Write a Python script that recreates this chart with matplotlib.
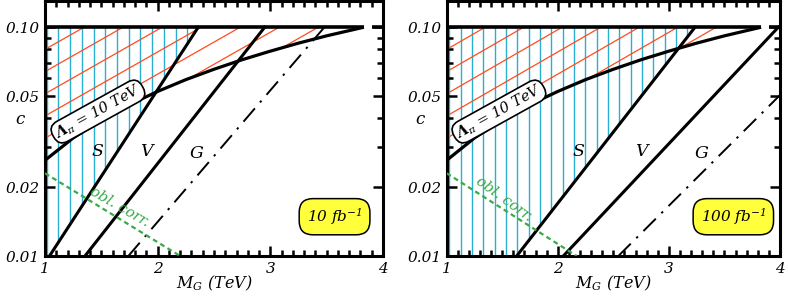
import numpy as np
import matplotlib
matplotlib.use("Agg")
import matplotlib.pyplot as plt
from matplotlib.ticker import FixedLocator, MultipleLocator, NullFormatter

plt.rcParams['mathtext.fontset'] = 'dejavuserif'
plt.rcParams['font.family'] = ['DejaVu Serif']
plt.rcParams['font.style'] = 'italic'

# ---------------- data ----------------
lumi_labels = ["10 fb$^{-1}$", "100 fb$^{-1}$"]

# Lambda_pi = 10 TeV curve (same in both panels)
M_lam = [1.0, 1.25, 1.5, 1.75, 2.0, 2.25, 2.5, 2.75, 3.0, 3.25, 3.5, 3.83]
c_lam = [0.0262, 0.0328, 0.0393, 0.0459, 0.0524, 0.0590, 0.0655, 0.0721,
         0.0786, 0.0852, 0.0917, 0.1]

# 10 fb^-1 panel
S10_M = [1.04, 2.36];  S10_c = [0.01, 0.10]
V10_M = [1.355, 2.95]; V10_c = [0.01, 0.10]
G10_M = [1.74, 3.48];  G10_c = [0.01, 0.10]
obl10_M = [1.0, 2.2];  obl10_c = [0.023, 0.01]

# 100 fb^-1 panel
S100_M = [1.63, 3.235]; S100_c = [0.01, 0.10]
V100_M = [2.05, 3.985]; V100_c = [0.01, 0.10]
G100_M = [2.545, 4.0];  G100_c = [0.01, 0.0505]
obl100_M = [1.0, 2.17]; obl100_c = [0.023, 0.01]

top_line_M = [[1.0, 3.83], [3.9, 4.0]]
c_top = 0.1

ytick_vals = [0.01, 0.02, 0.05, 0.10]
ytick_labels = ["0.01", "0.02", "0.05", "0.10"]
xtick_vals = [1, 2, 3, 4]
xtick_labels = ["1", "2", "3", "4"]

# ---------------- styling ----------------
W, H = 788, 297
fig = plt.figure(figsize=(W / 100, H / 100), dpi=100)
ax_boxes = [
    [45 / W, (H - 256) / H, 338 / W, 255 / H],
    [446.7 / W, (H - 256) / H, 333.3 / W, 255 / H],
]
CYAN = "#2aaed2"
RED = "#ff4b1f"
GREEN = "#3aaa48"
YELLOW = "#ffff3c"

cfg = [
    dict(S=(S10_M, S10_c), V=(V10_M, V10_c), G=(G10_M, G10_c), obl=(obl10_M, obl10_c),
         cyan_start=1.015, cyan_step=0.104,
         Spos=(1.467, 0.0286), Vpos=(1.90, 0.0286), Gpos=(2.345, 0.028),
         lampos=(1.47, 0.0428), oblpos=(1.66, 0.0163), oblrot=-30,
         lumipos=(3.57, 0.01485), ylab_x=-0.074),
    dict(S=(S100_M, S100_c), V=(V100_M, V100_c), G=(G100_M, G100_c), obl=(obl100_M, obl100_c),
         cyan_start=1.024, cyan_step=0.102,
         Spos=(2.185, 0.0286), Vpos=(2.755, 0.0286), Gpos=(3.295, 0.028),
         lampos=(1.47, 0.0428), oblpos=(1.52, 0.0178), oblrot=-36,
         lumipos=(3.58, 0.01485), ylab_x=-0.08),
]

tick_font = dict(family="DejaVu Serif", style="italic", size=11)

for i, (box, c) in enumerate(zip(ax_boxes, cfg)):
    ax = fig.add_axes(box)
    ax.set_yscale("log")
    ax.set_xlim(1, 4)
    ax.set_ylim(0.01, 0.1302)

    # --- cyan vertical hatching: region above the S line, below 0.1
    SM, Sc = c["S"]
    xs = np.arange(c["cyan_start"], 4.0, c["cyan_step"])
    for x in xs:
        lo = 10 ** np.interp(x, SM, np.log10(Sc))
        if lo < c_top - 1e-6:
            ax.plot([x, x], [max(lo, 0.01), c_top], color=CYAN, lw=1.0, zorder=1,
                    solid_capstyle="butt")

    # --- red diagonal hatching: region above Lambda curve, below 0.1
    poly = ax.fill_between(M_lam, c_lam, c_top, facecolor="none", edgecolor="none", lw=0)
    clip_path = poly.get_paths()[0]
    Mx = np.array([0.8, 4.2])
    for k in range(-40, 10):
        logc = -1.0 + k * 0.097 + 0.28 * (Mx - 1.0)
        ln, = ax.plot(Mx, 10 ** logc, color=RED, lw=0.9, zorder=2)
        ln.set_clip_path(clip_path, ax.transData)

    # --- main lines
    ax.plot(M_lam, c_lam, color="black", lw=2.3, zorder=4, solid_capstyle="butt")
    for key in ("S", "V"):
        mm, cc = c[key]
        ax.plot(mm, cc, color="black", lw=2.2, zorder=4)
    mm, cc = c["G"]
    ax.plot(mm, cc, color="black", lw=1.4, zorder=4,
            linestyle=(0, (9, 4, 1.2, 4)))
    mm, cc = c["obl"]
    ax.plot(mm, cc, color=GREEN, lw=1.6, zorder=4, linestyle=(0, (2.2, 1.6)))
    for seg in top_line_M:
        ax.plot(seg, [c_top, c_top], color="black", lw=2.6, zorder=5,
                solid_capstyle="butt")

    # --- text labels
    for key in ("S", "V", "G"):
        ax.text(*c[key + "pos"], key, fontsize=12.5, style="italic",
                ha="center", va="center", zorder=6)
    ax.text(*c["lampos"], r"$\mathbf{\Lambda}_\pi$ = 10 TeV", fontsize=10.5,
            style="italic", rotation=29, ha="center", va="center",
            rotation_mode="anchor", zorder=7,
            bbox=dict(boxstyle="round,pad=0.18,rounding_size=0.7", fc="white",
                      ec="black", lw=1.2))
    ax.text(*c["oblpos"], "obl. corr.", fontsize=10.5, style="italic", color=GREEN,
            rotation=c["oblrot"], ha="center", va="center", rotation_mode="anchor",
            zorder=6)
    ax.text(*c["lumipos"], lumi_labels[i], fontsize=11, style="italic",
            ha="center", va="center", zorder=7,
            bbox=dict(boxstyle="round,pad=0.5,rounding_size=0.9", fc=YELLOW,
                      ec="black", lw=1.1))

    # --- axes styling
    for sp in ax.spines.values():
        sp.set_linewidth(2.2)
    ax.yaxis.set_major_locator(FixedLocator(ytick_vals))
    ax.set_yticklabels(ytick_labels, **tick_font)
    ax.yaxis.set_minor_locator(FixedLocator([0.03, 0.04, 0.06, 0.07, 0.08, 0.09]))
    ax.yaxis.set_minor_formatter(NullFormatter())
    ax.xaxis.set_major_locator(FixedLocator(xtick_vals))
    ax.set_xticklabels(xtick_labels, **tick_font)
    ax.xaxis.set_minor_locator(MultipleLocator(0.1))
    ax.tick_params(which="both", direction="in", top=True, right=True, width=1.8)
    ax.tick_params(which="major", length=7, pad=4)
    ax.tick_params(which="minor", length=4)

    ax.set_xlabel(r"$M_G$ (TeV)", fontsize=11.5, style="italic")
    ax.xaxis.set_label_coords(0.5, -0.07)
    ax.set_ylabel("c", fontsize=12, style="italic", rotation=0)
    ax.yaxis.set_label_coords(c["ylab_x"], 0.5)

fig.savefig("out.png", dpi=100)
